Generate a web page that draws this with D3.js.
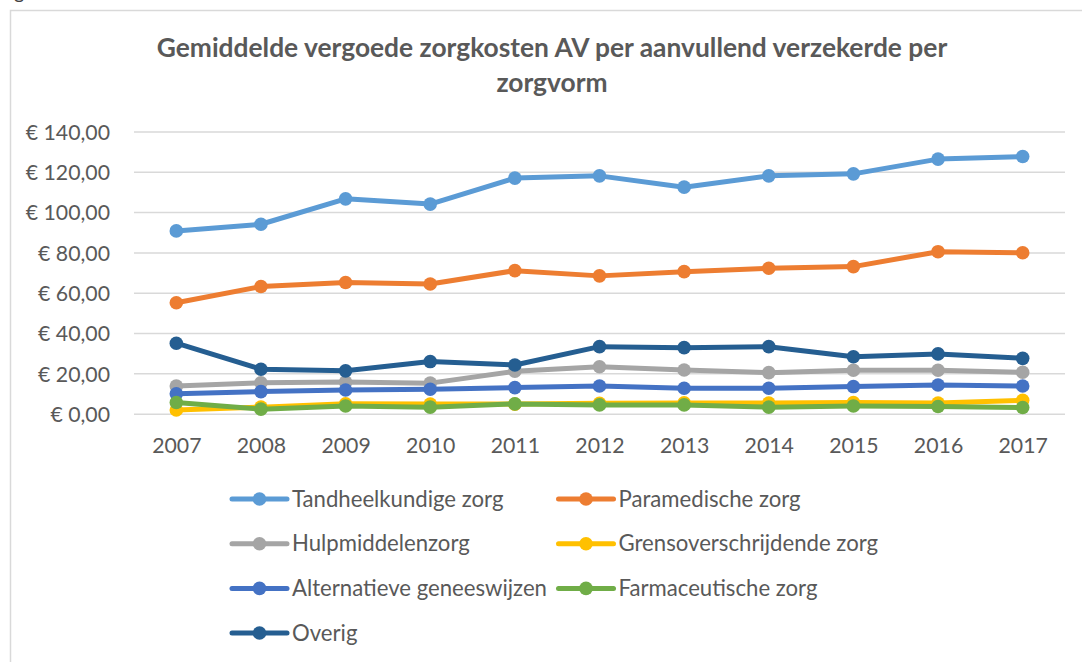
<!DOCTYPE html>
<html>
<head>
<meta charset="utf-8">
<script src="https://cdn.jsdelivr.net/npm/d3@7"></script>
<style>
  html, body { margin: 0; padding: 0; background: #ffffff; }
  svg { display: block; }
</style>
</head>
<body>
<svg id="chart" width="1082" height="662"></svg>
<script>
// ---- data ----
const years = [2007, 2008, 2009, 2010, 2011, 2012, 2013, 2014, 2015, 2016, 2017];
const tandheelkundige = [90.9, 94.2, 106.8, 104.2, 117.1, 118.2, 112.6, 118.2, 119.2, 126.5, 127.8];
const paramedische    = [55.3, 63.3, 65.3, 64.6, 71.2, 68.6, 70.7, 72.4, 73.2, 80.6, 80.1];
const hulpmiddelen    = [14.0, 15.6, 16.0, 15.4, 21.3, 23.5, 21.9, 20.6, 21.8, 21.8, 20.8];
const grensoverschr   = [2.1, 3.5, 5.2, 5.0, 5.0, 5.4, 5.6, 5.5, 5.8, 5.5, 6.9];
const alternatieve    = [10.1, 11.2, 12.0, 12.4, 13.2, 14.0, 12.9, 12.9, 13.7, 14.5, 14.0];
const farmaceutische  = [5.8, 2.5, 4.1, 3.5, 5.1, 4.6, 4.6, 3.5, 4.1, 3.8, 3.3];
const overig          = [35.2, 22.3, 21.5, 26.1, 24.4, 33.5, 33.0, 33.5, 28.5, 29.9, 27.7];
const seriesNames = ["Tandheelkundige zorg", "Paramedische zorg", "Hulpmiddelenzorg",
  "Grensoverschrijdende zorg", "Alternatieve geneeswijzen", "Farmaceutische zorg", "Overig"];
const seriesColors = ["#5B9BD5", "#ED7D31", "#A5A5A5", "#FFC000", "#4472C4", "#70AD47", "#255E91"];
const yTicks = [0, 20, 40, 60, 80, 100, 120, 140];
const yTickLabels = ["€ 0,00", "€ 20,00", "€ 40,00", "€ 60,00", "€ 80,00", "€ 100,00", "€ 120,00", "€ 140,00"];
const titleLines = ["Gemiddelde vergoede zorgkosten AV per aanvullend verzekerde per", "zorgvorm"];

const seriesValues = [tandheelkundige, paramedische, hulpmiddelen, grensoverschr, alternatieve, farmaceutische, overig];
const series = seriesNames.map((n, i) => ({ name: n, color: seriesColors[i], values: seriesValues[i] }));

// ---- layout ----
const svg = d3.select("#chart");
const FONT = "Lato, 'Open Sans', sans-serif";
const TXT = "#595959";
const plot = { left: 134, right: 1065, top: 131.9, bottom: 414.2 };

// fit a text selection's font-size so that its rendered width equals target
function fit(sel, target) {
  const node = sel.node();
  const fs = parseFloat(sel.attr("font-size"));
  const w = node.getComputedTextLength();
  const nf = fs * target / w;
  sel.attr("font-size", nf);
  return nf;
}

// chart border
svg.append("rect")
  .attr("x", 10.5).attr("y", 10.5)
  .attr("width", 1100).attr("height", 700)
  .attr("fill", "none").attr("stroke", "#d9d9d9").attr("stroke-width", 1.5);

// caption fragment above the chart frame
svg.append("text").attr("x", 14).attr("y", -1)
  .attr("font-family", FONT).attr("font-size", 20).attr("fill", "#404040").text("g");

// title
const t1 = svg.append("text").attr("x", 552).attr("y", 57.3)
  .attr("text-anchor", "middle").attr("font-family", FONT).attr("font-weight", "bold")
  .attr("font-size", 21).attr("fill", TXT).text(titleLines[0]);
const tfs = fit(t1, 791);
svg.append("text").attr("x", 552).attr("y", 91.7)
  .attr("text-anchor", "middle").attr("font-family", FONT).attr("font-weight", "bold")
  .attr("font-size", tfs).attr("fill", TXT).text(titleLines[1]);

// scales
const x = d3.scalePoint().domain(years).range([plot.left, plot.right]).padding(0.5);
const y = d3.scaleLinear().domain([0, 140]).range([plot.bottom, plot.top]);

// gridlines
svg.append("g").selectAll("line").data(yTicks).join("line")
  .attr("x1", plot.left).attr("x2", plot.right)
  .attr("y1", d => y(d)).attr("y2", d => y(d))
  .attr("stroke", "#d9d9d9").attr("stroke-width", 1.5);

// y axis labels
const yAxis = svg.append("g").attr("transform", `translate(${plot.left - 24},0)`)
  .call(d3.axisLeft(y).tickValues(yTicks).tickFormat((d, i) => yTickLabels[i]).tickSize(0).tickPadding(0));
yAxis.select(".domain").remove();
yAxis.selectAll("text").attr("font-family", FONT).attr("font-size", 20).attr("fill", TXT)
  .attr("dy", "0.34em");
// size the tick font by the widest label
let tickFs = 20;
{
  const widest = yAxis.selectAll("text").filter((d) => d === 140);
  tickFs = fit(widest, 84.3);
  yAxis.selectAll("text").attr("font-size", tickFs);
}

// x axis labels
const xAxis = svg.append("g").attr("transform", `translate(0,${plot.bottom})`)
  .call(d3.axisBottom(x).tickSize(0).tickPadding(0).tickFormat(d => String(d)));
xAxis.select(".domain").remove();
xAxis.selectAll("text").attr("font-family", FONT).attr("font-size", tickFs).attr("fill", TXT)
  .attr("dy", 0).attr("y", 39);

// lines and markers
const line = d3.line().x((d, i) => x(years[i])).y(d => y(d));
const gS = svg.append("g");
series.forEach(s => {
  const g = gS.append("g");
  g.append("path").attr("d", line(s.values))
    .attr("fill", "none").attr("stroke", s.color).attr("stroke-width", 5)
    .attr("stroke-linejoin", "round").attr("stroke-linecap", "round");
  g.selectAll("circle").data(s.values).join("circle")
    .attr("cx", (d, i) => x(years[i])).attr("cy", d => y(d))
    .attr("r", 6.8).attr("fill", s.color);
});

// legend
const legCols = [232, 558.5];
const legRows = [499, 543.7, 588.4, 633];
const leg = svg.append("g");
let legFs = tickFs;
series.forEach((s, i) => {
  const cx = legCols[i % 2], cy = legRows[Math.floor(i / 2)];
  const g = leg.append("g").attr("class", "li");
  g.append("line").attr("x1", cx).attr("x2", cx + 55).attr("y1", cy).attr("y2", cy)
    .attr("stroke", s.color).attr("stroke-width", 5).attr("stroke-linecap", "round");
  g.append("circle").attr("cx", cx + 27.5).attr("cy", cy).attr("r", 6.8).attr("fill", s.color);
  g.append("text").attr("x", cx + 60).attr("y", cy).attr("dy", "0.35em")
    .attr("font-family", FONT).attr("font-size", tickFs).attr("fill", TXT).text(s.name);
});
{
  const alt = leg.selectAll("text").filter(function () { return this.textContent === "Alternatieve geneeswijzen"; });
  legFs = fit(alt, 255);
  leg.selectAll("text").attr("font-size", legFs);
}
</script>
</body>
</html>
